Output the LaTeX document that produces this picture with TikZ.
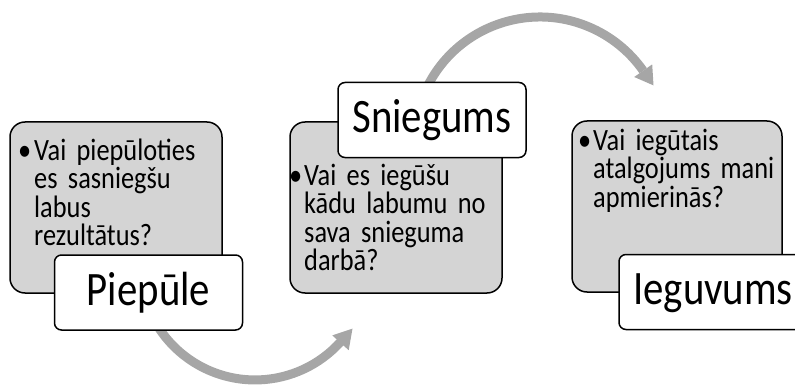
\documentclass[tikz,border=0pt]{standalone}
\usepackage{fontspec}
\setmainfont{Carlito}[FakeStretch=0.85]
\usepackage{tikz}
\definecolor{boxgrey}{RGB}{212,212,212}
\definecolor{arrowgrey}{RGB}{166,166,166}
\newcommand{\qfont}{\fontsize{31}{28.5}\selectfont}
\newcommand{\tfont}{\fontsize{48}{52}\selectfont}

\begin{document}
\begin{tikzpicture}[x=1pt,y=1pt]
\tikzstyle{every node}+=[inner sep=0pt]
\tikzstyle{greybox}=[draw=black, fill=boxgrey, line width=1.5pt, rounded corners=15pt, minimum width=212pt, minimum height=171pt]
\tikzstyle{titlebox}=[draw=black, fill=white, line width=1.5pt, rounded corners=7pt, minimum width=188pt, minimum height=75pt, font=\tfont, text height=33pt, text depth=8pt]
\tikzstyle{question}=[anchor=base west, align=left, text width=185pt, font=\qfont]
\tikzstyle{dot}=[anchor=base west, font=\qfont]
\tikzstyle{flow}=[draw=arrowgrey, line width=9pt]
\useasboundingbox (0,0) rectangle (795,389);
\coordinate (s1) at (157.5,63.1);
\draw [flow] (s1) arc (212:318:115pt);
\fill [arrowgrey] (352.5,60.4) -- (348.7,38.8) -- (332.3,53.6);
\coordinate (s2) at (427.7,303.2);
\draw [flow] (s2) arc (153:35:126pt);
\fill [arrowgrey] (653.5,303.6) -- (652.2,324.6) -- (634.2,312.0);
\node [greybox] (g1) at (116,181.5) {};
\node [greybox] (g2) at (396,181.5) {};
\node [greybox, minimum width=210pt] (g3) at (677,182.5) {};
\node [dot] (d1) at (18,229) {\textbullet};
\node [question] (q1) at (34,229) {Vai piepūloties\\es sasniegšu\\labus\\rezultātus?};
\node [dot] (d2) at (289,204) {\textbullet};
\node [question] (q2) at (304,204) {Vai es iegūšu\\kādu labumu no\\sava snieguma\\darbā?};
\node [dot] (d3) at (578,239) {\textbullet};
\node [question] (q3) at (593,239) {Vai iegūtais\\atalgojums mani\\apmierinās?};
\node [titlebox] (pie) at (148.5,96.5) {Piepūle};
\node [titlebox] (sni) at (432,269) {Sniegums};
\node [titlebox] (ieg) at (713,97) {Ieguvums};
\end{tikzpicture}
\end{document}
